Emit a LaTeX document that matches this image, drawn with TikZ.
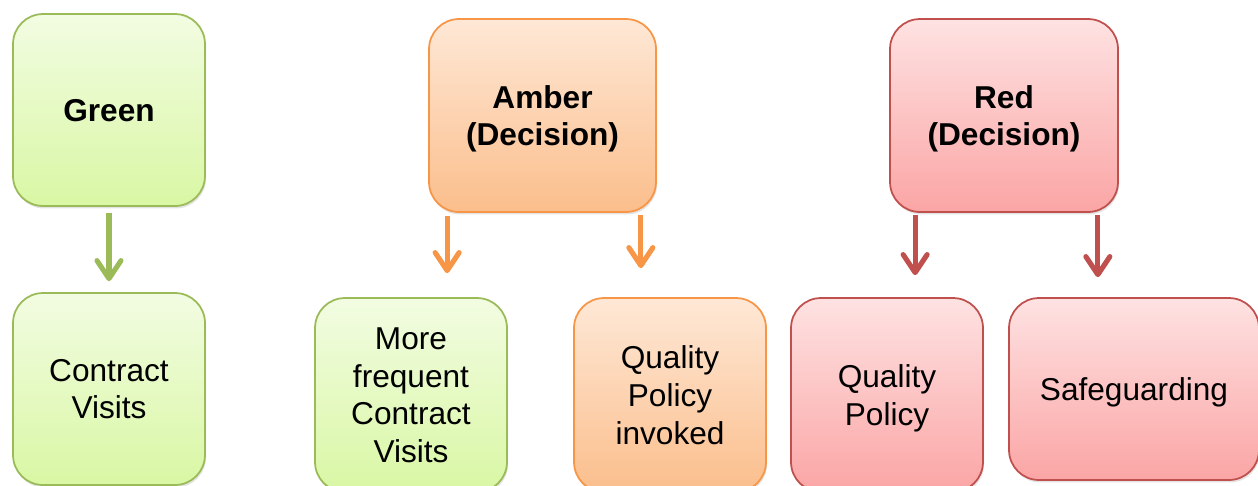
\documentclass[tikz,border=0pt]{standalone}
\usepackage{fontspec}
\setmainfont{Liberation Sans}
\usetikzlibrary{arrows.meta,shadows}

\definecolor{greenline}{RGB}{155,187,89}
\definecolor{greentop}{RGB}{242,252,226}
\definecolor{greenbot}{RGB}{217,247,164}
\definecolor{amberline}{RGB}{247,150,70}
\definecolor{ambertop}{RGB}{254,232,214}
\definecolor{amberbot}{RGB}{251,190,140}
\definecolor{redline}{RGB}{192,80,77}
\definecolor{redtop}{RGB}{254,226,226}
\definecolor{redbot}{RGB}{251,165,165}

\begin{document}
\begin{tikzpicture}[x=0.02cm, y=-0.02cm,
    box/.style={rounded corners=0.6cm, line width=1pt, align=center, inner sep=0pt,
        font=\fontsize{18}{21.5}\selectfont, text depth=0pt,
        drop shadow={opacity=0.22, shadow xshift=0.6pt, shadow yshift=-1.4pt}},
    greenbox/.style={box, draw=greenline, top color=greentop, bottom color=greenbot},
    amberbox/.style={box, draw=amberline, top color=ambertop, bottom color=amberbot},
    redbox/.style={box, draw=redline, top color=redtop, bottom color=redbot},
    arr/.style={line width=2.9pt, -{Straight Barb[length=0.36cm, width=0.48cm, round]}},
]
        \useasboundingbox (0,0) rectangle (1258,485);
        \clip (0,0) rectangle (1258,485);

        % Top row
        \node[greenbox, minimum width=3.84cm, minimum height=3.84cm] (green) at (109,110) {\textbf{Green}};
        \node[amberbox, minimum width=4.54cm, minimum height=3.86cm] (amber) at (542.5,115.5) {\textbf{Amber}\\\textbf{(Decision)}};
        \node[redbox, minimum width=4.56cm, minimum height=3.86cm] (red) at (1004,115.5) {\textbf{Red}\\\textbf{(Decision)}};

        % Bottom row
        \node[greenbox, minimum width=3.84cm, minimum height=3.84cm] (visits) at (109,389) {Contract\\Visits};
        \node[greenbox, minimum width=3.84cm, minimum height=3.88cm] (more) at (411,395) {More\\frequent\\Contract\\Visits};
        \node[amberbox, minimum width=3.84cm, minimum height=3.88cm] (invoked) at (670,395) {Quality\\Policy\\invoked};
        \node[redbox, minimum width=3.84cm, minimum height=3.88cm] (policy) at (887,395) {Quality\\Policy};
        \node[redbox, minimum width=5cm, minimum height=3.64cm] (safe) at (1134,389) {Safeguarding};

        % Arrows
        \draw[arr, greenline, shorten <=0.12cm, shorten >=0.22cm] (green.south) -- (visits.north);
        \draw[arr, amberline, shorten <=0.06cm, shorten >=0.48cm] ([xshift=0.38cm]amber.south west) -- ([xshift=0.38cm]amber.south west |- more.north);
        \draw[arr, amberline, shorten <=0.04cm, shorten >=0.58cm] ([xshift=-0.32cm]amber.south east) -- ([xshift=-0.32cm]amber.south east |- invoked.north);
        \draw[arr, redline, shorten <=0.04cm, shorten >=0.44cm] ([xshift=0.52cm]red.south west) -- ([xshift=0.52cm]red.south west |- policy.north);
        \draw[arr, redline, shorten <=0.04cm, shorten >=0.4cm] ([xshift=-0.42cm]red.south east) -- ([xshift=-0.42cm]red.south east |- safe.north);
    \end{tikzpicture}
\end{document}
